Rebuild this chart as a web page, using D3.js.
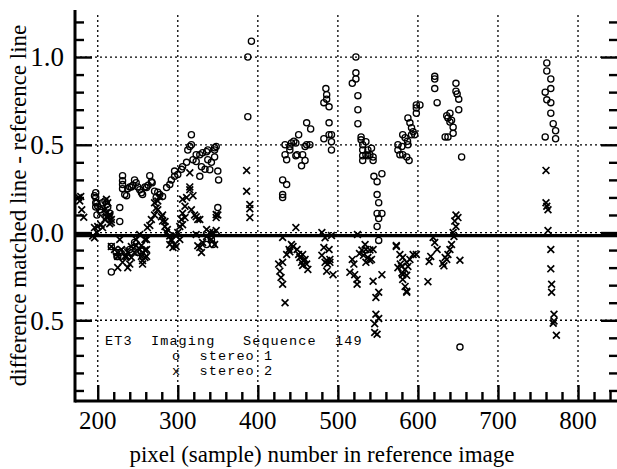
<!DOCTYPE html>
<html><head><meta charset="utf-8">
<script src="https://cdn.jsdelivr.net/npm/d3@7/dist/d3.min.js"></script>
<style>body{margin:0;background:#fff}</style>
</head><body>
<svg id="c" width="617" height="469"></svg>
<script>
// stereo 1 (circles): [pixel number, difference]
const stereo1 = [
[197.5,0.227],[197.5,0.2],[197.5,0.17],[197.5,0.145],[196,0.21],[199,0.17],[200,0.15],[202.5,0.13],[204,0.115],
[206,0.17],[209,0.18],[211,0.16],[212.5,0.145],[215,0.11],[199,0.10],
[227.5,0.142],[227.5,0.063],
[217,-0.08],[217,-0.225],[225,-0.136],[227.5,-0.114],[240,-0.097],[250,-0.114],[223,-0.114],[224,-0.136],
[233.75,-0.105],[246,-0.057],[250,-0.08],[254.6,-0.105],[256,-0.136],[336,-0.068],[342,-0.04],[344,-0.068],
[231,0.324],[231,0.295],[231,0.273],[231,0.25],[233.75,0.216],[237.5,0.25],[240,0.26],[242,0.26],[246,0.30],
[248,0.284],[250,0.26],[252.5,0.244],[254.6,0.227],[256,0.216],[259,0.26],[261,0.256],[265,0.324],[267,0.29],
[268,0.284],[271,0.235],[273,0.2],[275,0.23],[236,0.21],[244,0.27],[263,0.27],
[277.5,0.216],[281,0.205],[286,0.256],[290,0.273],[292,0.30],[296,0.32],[296,0.35],[300,0.33],[304.6,0.36],
[306,0.375],[311,0.40],[312.5,0.47],[315,0.49],[317,0.557],[319,0.415],[323,0.405],[327.5,0.443],[331,0.455],
[336,0.46],[337.5,0.415],[342,0.40],[340,0.358],[329.6,0.375],[327.5,0.32],[346,0.43],[346,0.47],[348,0.49],
[350,0.35],[351,0.30],[350,0.142],[334,0.36],[317,0.5],[323,0.443],[337.5,0.47],[346,0.483],
[387.5,0.66],[387.5,1.0],[392,1.09],
[431,0.3],[436,0.273],[431,0.216],[431,0.2],
[434,0.443],[436,0.415],[440,0.49],[434,0.5],[442,0.51],[445,0.52],[447.5,0.51],[449,0.443],[451,0.557],
[456,0.443],[459,0.49],[459,0.41],[454.6,0.38],[461,0.625],[466,0.59],[461,0.5],[465,0.5],[440,0.47],[447.5,0.4375],
[485,0.82],[486,0.785],[486,0.76],[482.5,0.74],[489,0.716],[489,0.625],[482.5,0.534],[489,0.557],[492,0.557],
[492,0.517],[492,0.47],
[522.5,1.0],[522.5,0.91],[522.5,0.875],[518,0.85],[525,0.78],[525,0.70],[525,0.62],[529,0.545],[529,0.528],
[535,0.517],[531,0.5],[531,0.47],[537.5,0.47],[542,0.48],[535,0.443],[540,0.443],[544,0.43],[531,0.4375],
[537.5,0.4375],[544,0.41],[531,0.41],[545,0.32],[549,0.29],[555,0.335],[549,0.216],[551,0.17],[549,0.108],
[555,0.108],[551,0.08],[549,0.034],[551,-0.045],
[575,0.5],[580,0.49],[575,0.47],[577.5,0.443],[581,0.443],[581,0.557],[587.5,0.653],[590,0.625],[592,0.597],
[594,0.574],[592,0.557],[596,0.557],[587.5,0.5],[598,0.68],[598,0.71],[598,0.727],[602.5,0.727],[586,0.43],
[589,0.41],[584,0.54],[587,0.52],
[621,0.89],[621,0.875],[621,0.82],[624,0.74],[636,0.665],[637.5,0.653],[640,0.63],[642,0.64],[644,0.60],
[644,0.565],[634,0.545],[637.5,0.545],[647.5,0.85],[647.5,0.805],[649,0.79],[651,0.76],[651,0.70],[654.6,0.43],
[652.5,-0.653],[640,0.68],
[761,0.966],[761,0.92],[766,0.875],[766,0.82],[759,0.80],[761,0.756],[766,0.74],[766,0.68],[769,0.62],
[772,0.58],[759,0.545],[772,0.534]
];
// stereo 2 (crosses)
const stereo2 = [
[178.75,0.205],[177.5,0.18],[180,0.13],[182.5,0.087],[176,0.2],
[196,0.028],[199,0],[193.75,-0.02],[196,-0.03],[200,0.034],[204,0.045],[208.75,0.074],[212.5,0.085],[215,0.102],
[211,0.09],[206,0.028],[217,0.074],[215,0.05],[212.5,0.17],[210.9,0.19],[208.75,0.13],[210.9,0.11],[215,0.095],[217,0.057],
[217,-0.08],[221,-0.097],[227.5,-0.04],[229.6,-0.097],[225,-0.136],[225,-0.2],[231,-0.17],[236,-0.136],[240,-0.18],
[237.5,-0.2],[242,-0.142],[246,-0.114],[248,-0.074],[252.5,-0.097],[254.6,-0.136],[256,-0.16],[259,-0.142],[261,-0.097],
[261,-0.04],[256,-0.18],[233.75,-0.136],[237.5,-0.114],[242,-0.08],[248,-0.04],[252.5,-0.011],[259,-0.04],[254.6,-0.074],
[259,-0.1],[261,-0.136],
[265,0.04],[267,0.074],[271,0.1],[273,0.14],[271,0.17],[275,0.18],[277.5,0.205],[275,0.13],[279.6,0.09],[281,0.065],
[284,0.034],[286,0.0],[290,-0.02],[292,-0.04],[296,-0.068],[294,-0.085],[290,-0.068],[298,-0.02],[300,0],[302.5,0.034],
[304.6,0.074],[306,0.11],[309,0.15],[306,0.19],[311,0.2],[315,0.244],[315,0.26],[319,0.21],[315,0.34],[317,0.13],
[321,0.1],[323,0.09],[325,0.074],[262,0.028],[281,0.1],[284,0.063],[287,0.017],[292,-0.045],[298,-0.08],[302.5,-0.04],
[306,0.045],[309,0.085],
[327.5,0.074],[323,-0.011],[336,0.017],[340,0],[342,-0.04],[344,0.0],[348,0.011],[346,-0.068],[327.5,-0.085],
[329.6,-0.114],[325,-0.075],[336,-0.023],[348,0.085],[348,0.102],[350,0.1],[331,-0.057],
[386,0.354],[386,0.235],[390,0.16],[390,0.136],[390,0.085],
[447.5,0.028],[431,-0.028],[436,-0.125],[439,-0.097],[442,-0.068],[449,-0.097],[451,-0.125],[452.5,-0.142],
[454.6,-0.17],[456,-0.1875],[461,-0.18],[462.5,-0.21],[459,-0.153],[427.5,-0.22],[429,-0.256],[431,-0.295],
[426,-0.18],[434,-0.4],[431,-0.17],[444,-0.08],[440,-0.11],[456,-0.125],[458,-0.16],
[484,-0.03],[482.5,-0.085],[489,-0.097],[492,-0.017],[490,-0.153],[486,-0.16],[490,-0.17],[487,-0.18],[486,-0.22],
[494,-0.24],[480,-0.13],[484,-0.17],[480,0.0],
[518,-0.153],[520,-0.18],[521,-0.24],[524,-0.267],[524,-0.295],[515,-0.227],[534,-0.068],[535,-0.097],[537.5,-0.142],
[540,-0.16],[535,-0.17],[542,-0.153],[544,-0.097],[555,-0.24],[544,-0.278],[551,-0.34],[547.5,-0.37],[547.5,-0.466],
[551,-0.49],[546,-0.52],[549,-0.58],[546,-0.57],[524.5,-0.011],[530,-0.1],[532,-0.13],[527,-0.12],[540,-0.1],
[573,-0.074],[577.5,-0.125],[581,-0.142],[586,-0.17],[575,-0.2],[579.6,-0.193],[584,-0.21],[587.5,-0.193],[581,-0.24],
[586,-0.244],[581,-0.267],[584,-0.307],[586,-0.335],[590,-0.153],[594,-0.125],[598,-0.125],[612.5,-0.28],[586,-0.34],
[580,-0.23],[578,-0.18],[573,-0.08],
[619,-0.028],[621,-0.057],[624,-0.097],[616,-0.136],[614,-0.165],[632.5,-0.19],[636,-0.153],[637.5,-0.125],
[647.5,0.1],[646,0.065],[647.5,0.034],[644,0],[642,-0.068],[640,-0.097],[634,-0.142],[631,-0.176],[652.5,-0.158],
[645,-0.023],[650,0.085],
[760,0.354],[760,0.17],[761,0.15],[762.5,0.13],[762.5,0.011],[766,-0.097],[766,-0.207],[767,-0.295],[767,-0.34],
[770,-0.466],[770,-0.504],[769,-0.517],[773,-0.585]
];
const xTicks = [200,300,400,500,600,700,800];
const xTickLabels = ["200","300","400","500","600","700","800"];
const yTicks = [1.0,0.5,0.0,-0.5];
const yTickLabels = ["1.0","0.5","0.0","0.5"];
const xMinor = d3.range(220,841,20);
const yMinor = d3.range(-9,13).map(d=>d/10);
const legendLines = ["ET3  Imaging   Sequence  149","o  stereo 1","x  stereo 2"];
const xTitle = "pixel (sample) number in reference image";
const yTitle = "difference matched line - reference line";

const svg = d3.select("#c");
const L=75, R=617, T=10, B=401;
const x = d3.scaleLinear().domain([171.6,848.7]).range([L,R]);
const y = d3.scaleLinear().domain([-0.96,1.268]).range([B,T]);
const serif = "'Liberation Serif','Times New Roman',serif";
const mono = "'Liberation Mono','Courier New',monospace";

// grid
const g = svg.append("g").attr("stroke","#000").attr("stroke-width",1.3).attr("stroke-dasharray","2,3");
g.selectAll("line.v").data(xTicks).join("line").attr("x1",d=>x(d)).attr("x2",d=>x(d)).attr("y1",15).attr("y2",B);
g.selectAll("line.h").data(yTicks).join("line").attr("y1",d=>y(d)).attr("y2",d=>y(d)).attr("x1",L).attr("x2",R);

// zero reference line
svg.append("line").attr("x1",L).attr("x2",R).attr("y1",y(0)+3).attr("y2",y(0)+3).attr("stroke","#000").attr("stroke-width",3.2);

// axes ticks via d3 axes
function clean(sel){ sel.select(".domain").remove(); sel.selectAll("line").attr("stroke","#000").attr("stroke-width",2.4); }
const isMaj = v => Math.abs(v*2-Math.round(v*2))<1e-6;
svg.append("g").attr("transform",`translate(${L},0)`).call(d3.axisRight(y).tickValues(yMinor.filter(v=>!isMaj(v))).tickSize(9).tickFormat("")).call(clean);
svg.append("g").attr("transform",`translate(${L},0)`).call(d3.axisRight(y).tickValues(yMinor.filter(isMaj)).tickSize(17).tickFormat("")).call(clean);
svg.append("g").attr("transform",`translate(${R},0)`).call(d3.axisLeft(y).tickValues(yMinor.filter(v=>!isMaj(v))).tickSize(8).tickFormat("")).call(clean);
svg.append("g").attr("transform",`translate(${R},0)`).call(d3.axisLeft(y).tickValues(yMinor.filter(isMaj)).tickSize(16).tickFormat("")).call(clean);
svg.append("g").attr("transform",`translate(0,${B})`).call(d3.axisTop(x).tickValues(xMinor.filter(v=>v%100!==0)).tickSize(9).tickFormat("")).call(clean);
svg.append("g").attr("transform",`translate(0,${B})`).call(d3.axisTop(x).tickValues(xTicks).tickSize(16).tickFormat("")).call(clean);

// axis lines
svg.append("line").attr("x1",L).attr("x2",L).attr("y1",T).attr("y2",B+1.5).attr("stroke","#000").attr("stroke-width",3);
svg.append("line").attr("x1",L).attr("x2",R).attr("y1",B).attr("y2",B).attr("stroke","#000").attr("stroke-width",3);

// tick labels
svg.selectAll("text.yl").data(yTicks).join("text").attr("x",64).attr("y",d=>y(d)).attr("dy","0.35em")
  .attr("text-anchor","end").attr("font-family",serif).attr("font-size",27).text((d,i)=>yTickLabels[i]);
svg.selectAll("text.xl").data(xTicks).join("text").attr("x",d=>x(d)).attr("y",429)
  .attr("text-anchor","middle").attr("font-family",serif).attr("font-size",25).text((d,i)=>xTickLabels[i]);

// titles
svg.append("text").attr("x",322).attr("y",462).attr("text-anchor","middle").attr("font-family",serif).attr("font-size",23).text(xTitle);
svg.append("text").attr("transform",`translate(18,${(T+B)/2}) rotate(-90)`).attr("text-anchor","middle").attr("dy","0.35em")
  .attr("font-family",serif).attr("font-size",23).text(yTitle);

// markers
svg.append("g").selectAll("circle").data(stereo1).join("circle")
  .attr("cx",d=>x(d[0])).attr("cy",d=>y(d[1])).attr("r",3.1).attr("fill","none").attr("stroke","#000").attr("stroke-width",1.3);
const s=3.4;
svg.append("g").selectAll("path").data(stereo2).join("path")
  .attr("d",d=>{const cx=x(d[0]),cy=y(d[1]);return `M${cx-s},${cy-s}L${cx+s},${cy+s}M${cx-s},${cy+s}L${cx+s},${cy-s}`;})
  .attr("stroke","#000").attr("stroke-width",1.7).attr("fill","none");

// legend
svg.selectAll("text.lg").data(legendLines).join("text")
  .attr("x",(d,i)=>i===0?105:172).attr("y",(d,i)=>[344.5,360,375][i])
  .attr("font-family",mono).attr("font-size",13.5).attr("letter-spacing",1.1)
  .style("white-space","pre").attr("xml:space","preserve").text(d=>d);
</script>
</body></html>
